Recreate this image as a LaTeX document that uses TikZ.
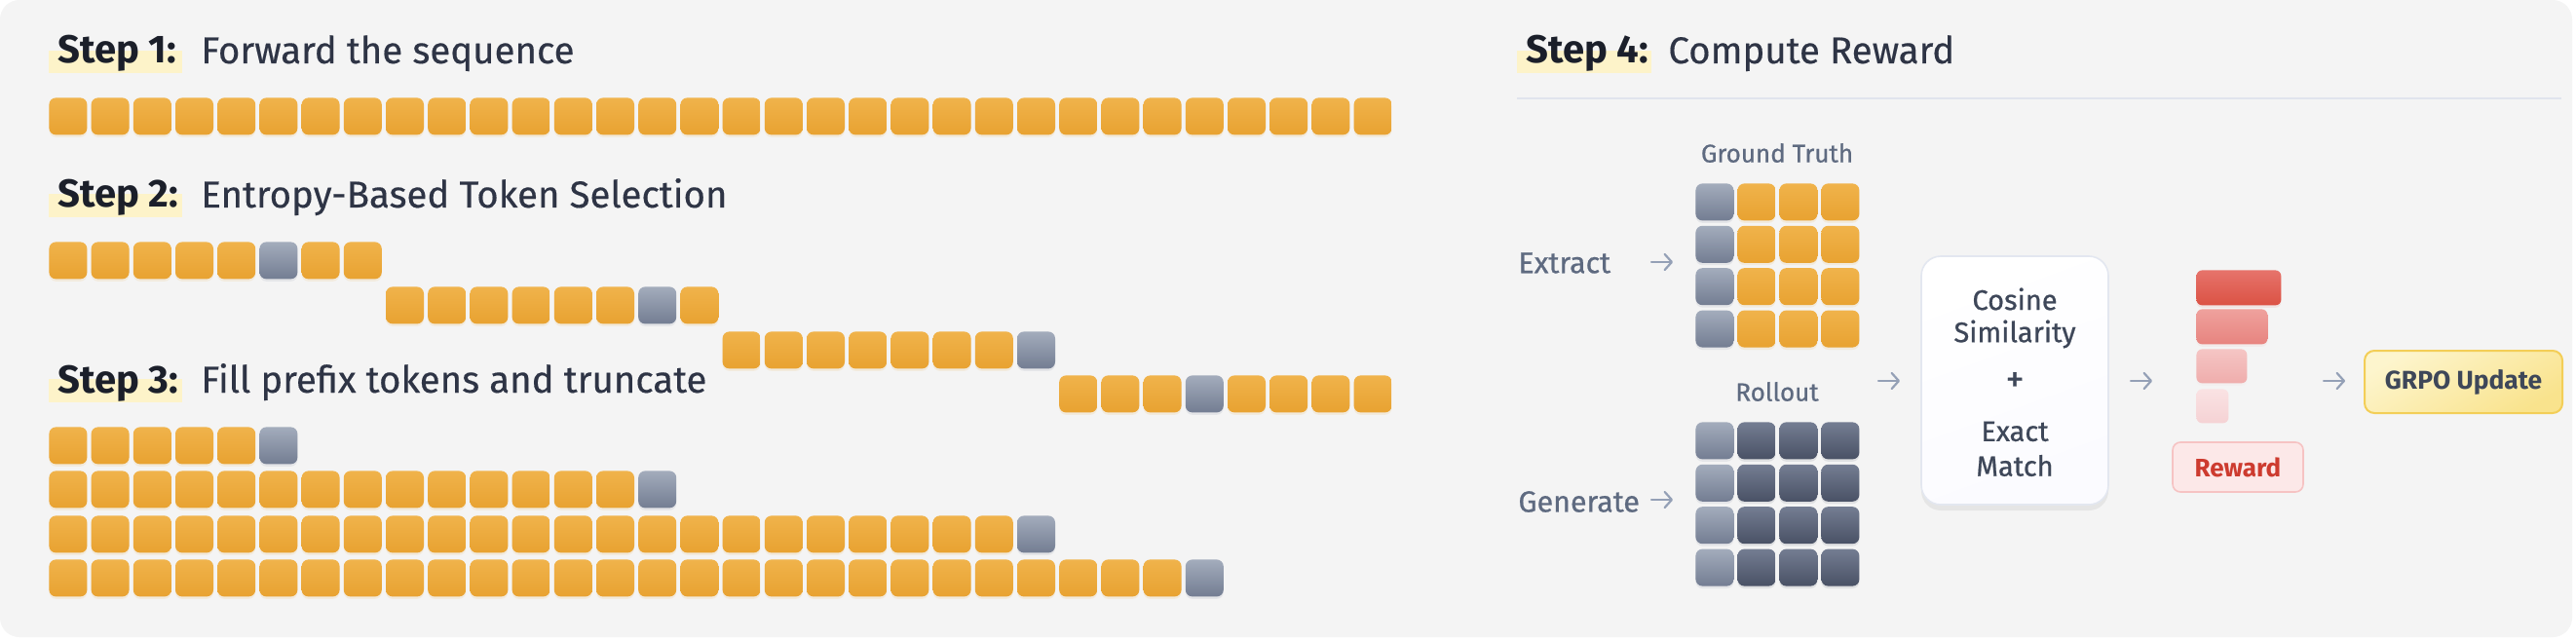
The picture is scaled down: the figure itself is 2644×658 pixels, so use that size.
\documentclass[tikz,border=0pt]{standalone}
\usepackage{fontspec}
\setmainfont{Fira Sans}
\newfontfamily\medfont[FakeBold=0.7]{Fira Sans}
\newfontfamily\titlefont[FakeBold=0.35]{Fira Sans}
\usetikzlibrary{arrows.meta,shadows}
\definecolor{panel}{HTML}{F4F4F4}
\definecolor{tokA}{HTML}{F0B34B}
\definecolor{tokB}{HTML}{E8A231}
\definecolor{grayA}{HTML}{A3ACBC}
\definecolor{grayB}{HTML}{737D92}
\definecolor{darkA}{HTML}{747D92}
\definecolor{darkB}{HTML}{495165}
\definecolor{hl}{HTML}{FDF3C9}
\definecolor{ink}{HTML}{1B1F2A}
\definecolor{titlec}{HTML}{2E3445}
\definecolor{labelc}{HTML}{5E6A80}
\definecolor{arrowc}{HTML}{94A0B6}
\definecolor{rulec}{HTML}{E0E4ED}
\definecolor{boxtext}{HTML}{3E4759}
\definecolor{boxline}{HTML}{E3E7F0}
\definecolor{barAa}{HTML}{E6736B}
\definecolor{barAb}{HTML}{DB5244}
\definecolor{barBa}{HTML}{EFA19D}
\definecolor{barBb}{HTML}{E7847F}
\definecolor{barCa}{HTML}{F5C5C4}
\definecolor{barCb}{HTML}{EFADAC}
\definecolor{barDa}{HTML}{FAE2E3}
\definecolor{barDb}{HTML}{F5D2D4}
\definecolor{rewfill}{HTML}{FCE8E8}
\definecolor{rewline}{HTML}{F6C3C3}
\definecolor{rewtext}{HTML}{CD3B2F}
\definecolor{grpoA}{HTML}{FDF5CD}
\definecolor{grpoB}{HTML}{F9E38D}
\definecolor{grpoline}{HTML}{F3CE57}
\tikzset{
  tokbase/.style={rounded corners=3.5pt, minimum width=19.5pt, minimum height=19pt,
    inner sep=0pt, anchor=north west, shading angle=45},
  tok/.style={tokbase, top color=tokA, bottom color=tokB,
    drop shadow={opacity=0.12, shadow xshift=0pt, shadow yshift=-1.2pt, fill=tokB}},
  gtok/.style={tokbase, top color=grayA, bottom color=grayB,
    drop shadow={opacity=0.12, shadow xshift=0pt, shadow yshift=-1.2pt, fill=grayB}},
  dtok/.style={tokbase, top color=darkA, bottom color=darkB,
    drop shadow={opacity=0.12, shadow xshift=0pt, shadow yshift=-1.2pt, fill=darkB}},
  hlbox/.style={fill=hl, draw=none},
  stepnum/.style={anchor=base west, inner sep=0pt, text=ink, font=\bfseries\fontsize{20}{24}\selectfont},
  steptitle/.style={anchor=base west, inner sep=0pt, text=titlec, font=\titlefont\fontsize{19.2}{23}\selectfont},
  lab/.style={inner sep=0pt, text=labelc, font=\medfont\fontsize{13}{15}\selectfont},
  sidelab/.style={anchor=west, inner sep=0pt, text=labelc, font=\medfont\fontsize{15.2}{18}\selectfont},
  boxtxt/.style={inner sep=0pt, text=boxtext, font=\medfont\fontsize{14.5}{17}\selectfont},
  arr/.style={draw=arrowc, line width=1.1pt, line cap=round, -{Straight Barb[length=3.6pt,width=8pt,round]}},
  bar/.style={rounded corners=3pt, inner sep=0pt, anchor=north west, shading angle=45},
}
\newcommand\tokrow[5]{% name, y, first, last, gray index
  \foreach \i in {#3,...,#4}{%
    \ifnum\i=#5\relax
      \node[gtok] (#1-\i) at ({50+43.2*\i},#2) {};
    \else
      \node[tok] (#1-\i) at ({50+43.2*\i},#2) {};
    \fi}}
\begin{document}
\begin{tikzpicture}[x=0.5pt,y=-0.5pt]
\useasboundingbox (0,0) rectangle (2644,658);
\fill[white] (0,0) rectangle (2644,658);
\fill[panel, rounded corners=10pt] (0,0) rectangle (2640,654);

% headings
\fill[hlbox] (50,52) rectangle (187,75);
\node[stepnum] (h1) at (59,65) {Step 1:};
\node[steptitle] (t1) at (206,65) {Forward the sequence};
\fill[hlbox] (50,199) rectangle (187,223);
\node[stepnum] (h2) at (59,213) {Step 2:};
\node[steptitle] (t2) at (206,213) {Entropy-Based Token Selection};
\fill[hlbox] (50,389) rectangle (187,413);
\node[stepnum] (h3) at (59,403) {Step 3:};
\node[steptitle] (t3) at (206,403) {Fill prefix tokens and truncate};
\fill[hlbox] (1557,52) rectangle (1695,75);
\node[stepnum] (h4) at (1566,65) {Step 4:};
\node[steptitle] (t4) at (1712,65) {Compute Reward};
\draw[rulec, line width=1pt] (1557,101) -- (2629,101);

% step 1
\tokrow{a}{100}{0}{31}{-1}
% step 2
\tokrow{b}{248}{0}{7}{5}
\tokrow{c}{294}{8}{15}{14}
\tokrow{d}{340}{16}{23}{23}
\tokrow{e}{385}{24}{31}{27}
% step 3
\tokrow{f}{438}{0}{5}{5}
\tokrow{g}{483}{0}{14}{14}
\tokrow{h}{529}{0}{23}{23}
\tokrow{k}{574}{0}{27}{27}

% step 4 grids
\node[lab] (gtlab) at (1824,157) {Ground Truth};
\foreach \r in {0,...,3}{
  \node[gtok] (gt-\r-0) at (1740,{188+43.4*\r}) {};
  \foreach \c in {1,2,3}{\node[tok] (gt-\r-\c) at ({1740+43*\c},{188+43.4*\r}) {};}
}
\node[lab] (rolab) at (1824,402) {Rollout};
\foreach \r in {0,...,3}{
  \node[gtok] (ro-\r-0) at (1740,{433+43.4*\r}) {};
  \foreach \c in {1,2,3}{\node[dtok] (ro-\r-\c) at ({1740+43*\c},{433+43.4*\r}) {};}
}
\node[sidelab] (extract) at (1558,270) {Extract};
\node[sidelab] (generate) at (1558,515) {Generate};
\coordinate (ea1) at (1695,269); \coordinate (ea2) at (1717,269);
\coordinate (ga1) at (1695,513); \coordinate (ga2) at (1717,513);
\draw[arr] (ea1) -- (ea2);
\draw[arr] (ga1) -- (ga2);

% similarity box
\node[rounded corners=10pt, minimum width=96pt, minimum height=127.5pt, inner sep=0pt,
  top color=white, bottom color=white!96!blue!40!white, shading angle=20,
  draw=boxline, line width=0.8pt,
  drop shadow={opacity=0.06, shadow xshift=0pt, shadow yshift=-3pt, fill=black}] (cos) at (2068,390.5) {};
\node[boxtxt] (cos1) at (2068,307) {Cosine};
\node[boxtxt] (cos2) at (2068,343) {Similarity};
\node[boxtxt, font=\medfont\fontsize{19}{20}\selectfont] (cos3) at (2068,392) {+};
\node[boxtxt] (cos4) at (2068,443) {Exact};
\node[boxtxt] (cos5) at (2068,478) {Match};
\coordinate (ca1) at (1928,391); \coordinate (ca2) at (1950,391);
\draw[arr] (ca1) -- (ca2);
\coordinate (ra1) at (2187,391); \coordinate (ra2) at (2209,391);
\draw[arr] (ra1) -- (ra2);

% reward bars
\node[bar, top color=barAa, bottom color=barAb, minimum width=43.5pt, minimum height=18pt,
  drop shadow={opacity=0.10, shadow xshift=0pt, shadow yshift=-1.2pt, fill=barAb}] (bar1) at (2254,277) {};
\node[bar, top color=barBa, bottom color=barBb, minimum width=36.5pt, minimum height=18pt,
  drop shadow={opacity=0.08, shadow xshift=0pt, shadow yshift=-1.2pt, fill=barBb}] (bar2) at (2254,317) {};
\node[bar, top color=barCa, bottom color=barCb, minimum width=26pt, minimum height=17.5pt,
  drop shadow={opacity=0.06, shadow xshift=0pt, shadow yshift=-1.2pt, fill=barCb}] (bar3) at (2254,358) {};
\node[bar, top color=barDa, bottom color=barDb, minimum width=16.5pt, minimum height=17.5pt] (bar4) at (2254,399) {};
\node[rounded corners=4pt, minimum width=67pt, minimum height=25.5pt, inner sep=0pt,
  fill=rewfill, draw=rewline, line width=0.8pt, text=rewtext,
  font=\bfseries\fontsize{13}{15}\selectfont] (reward) at (2297,479.5) {Reward};
\coordinate (ga3) at (2385,391); \coordinate (ga4) at (2407,391);
\draw[arr] (ga3) -- (ga4);
\node[rounded corners=5pt, minimum width=101.5pt, minimum height=32pt, inner sep=0pt,
  top color=grpoA, bottom color=grpoB, shading angle=30, draw=grpoline, line width=1pt,
  text=boxtext, font=\bfseries\fontsize{13.2}{15}\selectfont] (grpo) at (2528.5,392) {GRPO Update};
\end{tikzpicture}
\end{document}
